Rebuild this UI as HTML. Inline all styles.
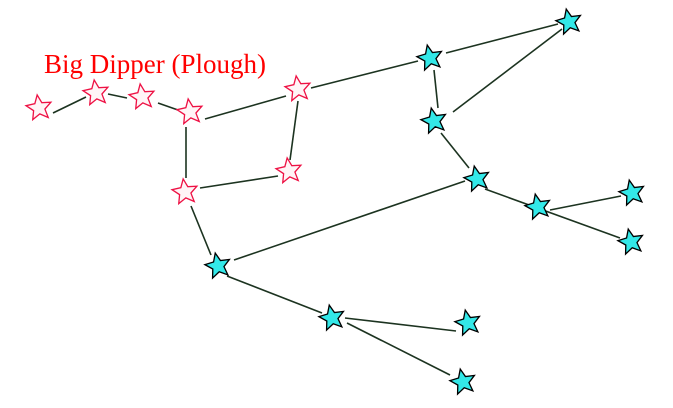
<!DOCTYPE html>
<html><head><meta charset="utf-8"><style>
html,body{margin:0;padding:0;background:#fff;}
svg{display:block;}
</style></head><body>
<svg width="673" height="408" viewBox="0 0 673 408" xmlns="http://www.w3.org/2000/svg">
<defs>
<path id="s" d="M0,-12 L3.2,-4.4 L11.4,-3.7 L5.2,1.7 L7.1,9.7 L0,5.4 L-7.1,9.7 L-5.2,1.7 L-11.4,-3.7 L-3.2,-4.4 Z"/>
</defs>
<text x="44" y="73" font-family="Liberation Serif, serif" font-size="27" fill="#ff0000">Big Dipper (Plough)</text>
<g stroke="#1c3320" stroke-width="1.6" fill="none">
<line x1="53" y1="113" x2="86" y2="97"/>
<line x1="108" y1="94" x2="127" y2="98"/>
<line x1="158" y1="103" x2="178" y2="110"/>
<line x1="205" y1="119" x2="286" y2="96"/>
<line x1="298" y1="101" x2="290" y2="160"/>
<line x1="200" y1="188" x2="278" y2="176"/>
<line x1="186" y1="127" x2="186" y2="178"/>
<line x1="191" y1="206" x2="211" y2="255"/>
<line x1="234" y1="260" x2="465" y2="181"/>
<line x1="311" y1="88" x2="418" y2="61"/>
<line x1="446" y1="53" x2="558" y2="24"/>
<line x1="453" y1="112" x2="562" y2="29"/>
<line x1="434" y1="70" x2="438" y2="108"/>
<line x1="441" y1="133" x2="469" y2="168"/>
<line x1="485" y1="189" x2="620" y2="238"/>
<line x1="550" y1="210" x2="621" y2="196"/>
<line x1="227" y1="276" x2="322" y2="313"/>
<line x1="345" y1="318" x2="456" y2="331"/>
<line x1="347" y1="323" x2="450" y2="375"/>
</g>
<g fill="#fff4f6" stroke="#ee1144" stroke-width="1.2">
<use href="#s" transform="translate(39,108) rotate(-8) scale(1.1)"/>
<use href="#s" transform="translate(96,93) rotate(-8) scale(1.1)"/>
<use href="#s" transform="translate(142,97) rotate(-8) scale(1.1)"/>
<use href="#s" transform="translate(190,112) rotate(-8) scale(1.1)"/>
<use href="#s" transform="translate(298,89) rotate(-8) scale(1.1)"/>
<use href="#s" transform="translate(289,171) rotate(-8) scale(1.1)"/>
<use href="#s" transform="translate(185,192) rotate(-8) scale(1.1)"/>
</g>
<g fill="#33e8e8" stroke="#000" stroke-width="1.2">
<use href="#s" transform="translate(430,58) rotate(-12) scale(1.1)"/>
<use href="#s" transform="translate(569,22) rotate(-12) scale(1.1)"/>
<use href="#s" transform="translate(434,121) rotate(-12) scale(1.1)"/>
<use href="#s" transform="translate(477,179) rotate(-12) scale(1.1)"/>
<use href="#s" transform="translate(538,207) rotate(-12) scale(1.1)"/>
<use href="#s" transform="translate(632,193) rotate(-12) scale(1.1)"/>
<use href="#s" transform="translate(631,242) rotate(-12) scale(1.1)"/>
<use href="#s" transform="translate(218,266) rotate(-12) scale(1.1)"/>
<use href="#s" transform="translate(332,318) rotate(-12) scale(1.1)"/>
<use href="#s" transform="translate(468,323) rotate(-12) scale(1.1)"/>
<use href="#s" transform="translate(463,382) rotate(-12) scale(1.1)"/>
</g>
</svg>
</body></html>
